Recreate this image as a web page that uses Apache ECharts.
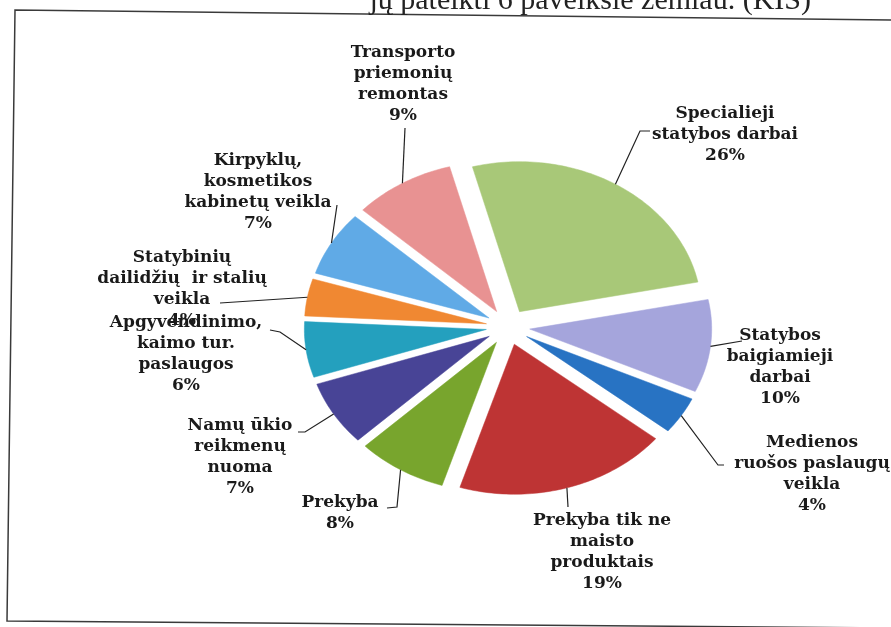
<!DOCTYPE html>
<html>
<head>
<meta charset="utf-8">
<script src="https://cdn.jsdelivr.net/npm/echarts@6/dist/echarts.min.js"></script>
<style>
html,body{margin:0;padding:0;background:#fff;}
#chart{width:891px;height:627px;}
</style>
</head>
<body>
<div id="chart"></div>
<script>
// ---- data ----
const categories = [
  'Specialieji statybos darbai',
  'Statybos baigiamieji darbai',
  'Medienos ruošos paslaugų veikla',
  'Prekyba tik ne maisto produktais',
  'Prekyba',
  'Namų ūkio reikmenų nuoma',
  'Apgyvendinimo, kaimo tur. paslaugos',
  'Statybinių dailidžių ir stalių veikla',
  'Kirpyklų, kosmetikos kabinetų veikla',
  'Transporto priemonių remontas'
];
const values = [26, 10, 4, 19, 8, 7, 6, 4, 7, 9];
const labelLines = [
  ['Specialieji', 'statybos darbai'],
  ['Statybos', 'baigiamieji', 'darbai'],
  ['Medienos', 'ruošos paslaugų', 'veikla'],
  ['Prekyba tik ne', 'maisto', 'produktais'],
  ['Prekyba'],
  ['Namų ūkio', 'reikmenų', 'nuoma'],
  ['Apgyvendinimo,', 'kaimo tur.', 'paslaugos'],
  ['Statybinių', 'dailidžių  ir stalių', 'veikla'],
  ['Kirpyklų,', 'kosmetikos', 'kabinetų veikla'],
  ['Transporto', 'priemonių', 'remontas']
];
const colors = ['#a8c878', '#a5a5dc', '#2873c3', '#be3434', '#78a52d',
                '#484496', '#24a0be', '#f08832', '#60aae6', '#e89292'];

// ---- layout (positions only) ----
const CX = 508, CY = 327, RX = 182, RY = 150, EXPLODE = 0.12;
const START = -15 * Math.PI / 180;
const labelPos = [
  [725, 103], [780, 325], [812, 432], [602, 510], [340, 492],
  [240, 415], [186, 312], [182, 247], [258, 150], [403, 42]
];
const leaderTail = [
  [[640, 131], [650, 131]],
  [[742, 341]],
  [[718, 465], [724, 465]],
  [[568, 507]],
  [[397, 507], [387, 508]],
  [[305, 432], [298, 432]],
  [[280, 332], [270, 330]],
  [[220, 303]],
  [[337, 205]],
  [[405, 128]]
];

const total = values.reduce((a, b) => a + b, 0);
const cum = [];
values.reduce((acc, v, i) => { cum[i] = acc; return acc + v; }, 0);

const chart = echarts.init(document.getElementById('chart'));
chart.setOption({
  backgroundColor: '#ffffff',
  animation: false,
  graphic: [
    {
      type: 'polyline',
      shape: { points: [[891, 20], [15, 10], [7, 621], [891, 628]] },
      style: { fill: null, stroke: '#3a3a3a', lineWidth: 1.5 }
    },
    {
      type: 'text',
      style: {
        text: 'jų pateikti 6 paveiksle žemiau. (KIS)',
        x: 811, y: 16, align: 'right', verticalAlign: 'bottom',
        font: '30px "Liberation Serif"', fill: '#222'
      }
    }
  ],
  series: [{
    type: 'custom',
    coordinateSystem: 'none',
    data: values.map((v, i) => ({ name: categories[i], value: v })),
    renderItem: function (params, api) {
      const i = params.dataIndex;
      const v = api.value(0);
      const a0 = START + cum[i] / total * 2 * Math.PI;
      const a1 = START + (cum[i] + v) / total * 2 * Math.PI;
      const am = (a0 + a1) / 2;
      const ox = EXPLODE * RX * Math.sin(am);
      const oy = -EXPLODE * RY * Math.cos(am);
      const pts = [[CX + ox, CY + oy]];
      const n = Math.max(10, Math.ceil((a1 - a0) / 0.02));
      for (let k = 0; k <= n; k++) {
        const a = a0 + (a1 - a0) * k / n;
        pts.push([CX + ox + RX * Math.sin(a), CY + oy - RY * Math.cos(a)]);
      }
      const arcPt = [CX + ox + RX * Math.sin(am), CY + oy - RY * Math.cos(am)];
      const pct = Math.round(v / total * 100) + '%';
      const text = labelLines[i].concat([pct]).join('\n');
      return {
        type: 'group',
        children: [
          { type: 'polygon', shape: { points: pts },
            style: { fill: colors[i], stroke: colors[i], lineWidth: 0.5 } },
          { type: 'polyline', shape: { points: [arcPt].concat(leaderTail[i]) },
            style: { stroke: '#222', lineWidth: 1.2, fill: null } },
          { type: 'text',
            style: { text: text, x: labelPos[i][0], y: labelPos[i][1],
              align: 'center', verticalAlign: 'top',
              font: 'bold 17px "DejaVu Serif"', lineHeight: 21, fill: '#1a1a1a' } }
        ]
      };
    }
  }]
});
</script>
</body>
</html>
